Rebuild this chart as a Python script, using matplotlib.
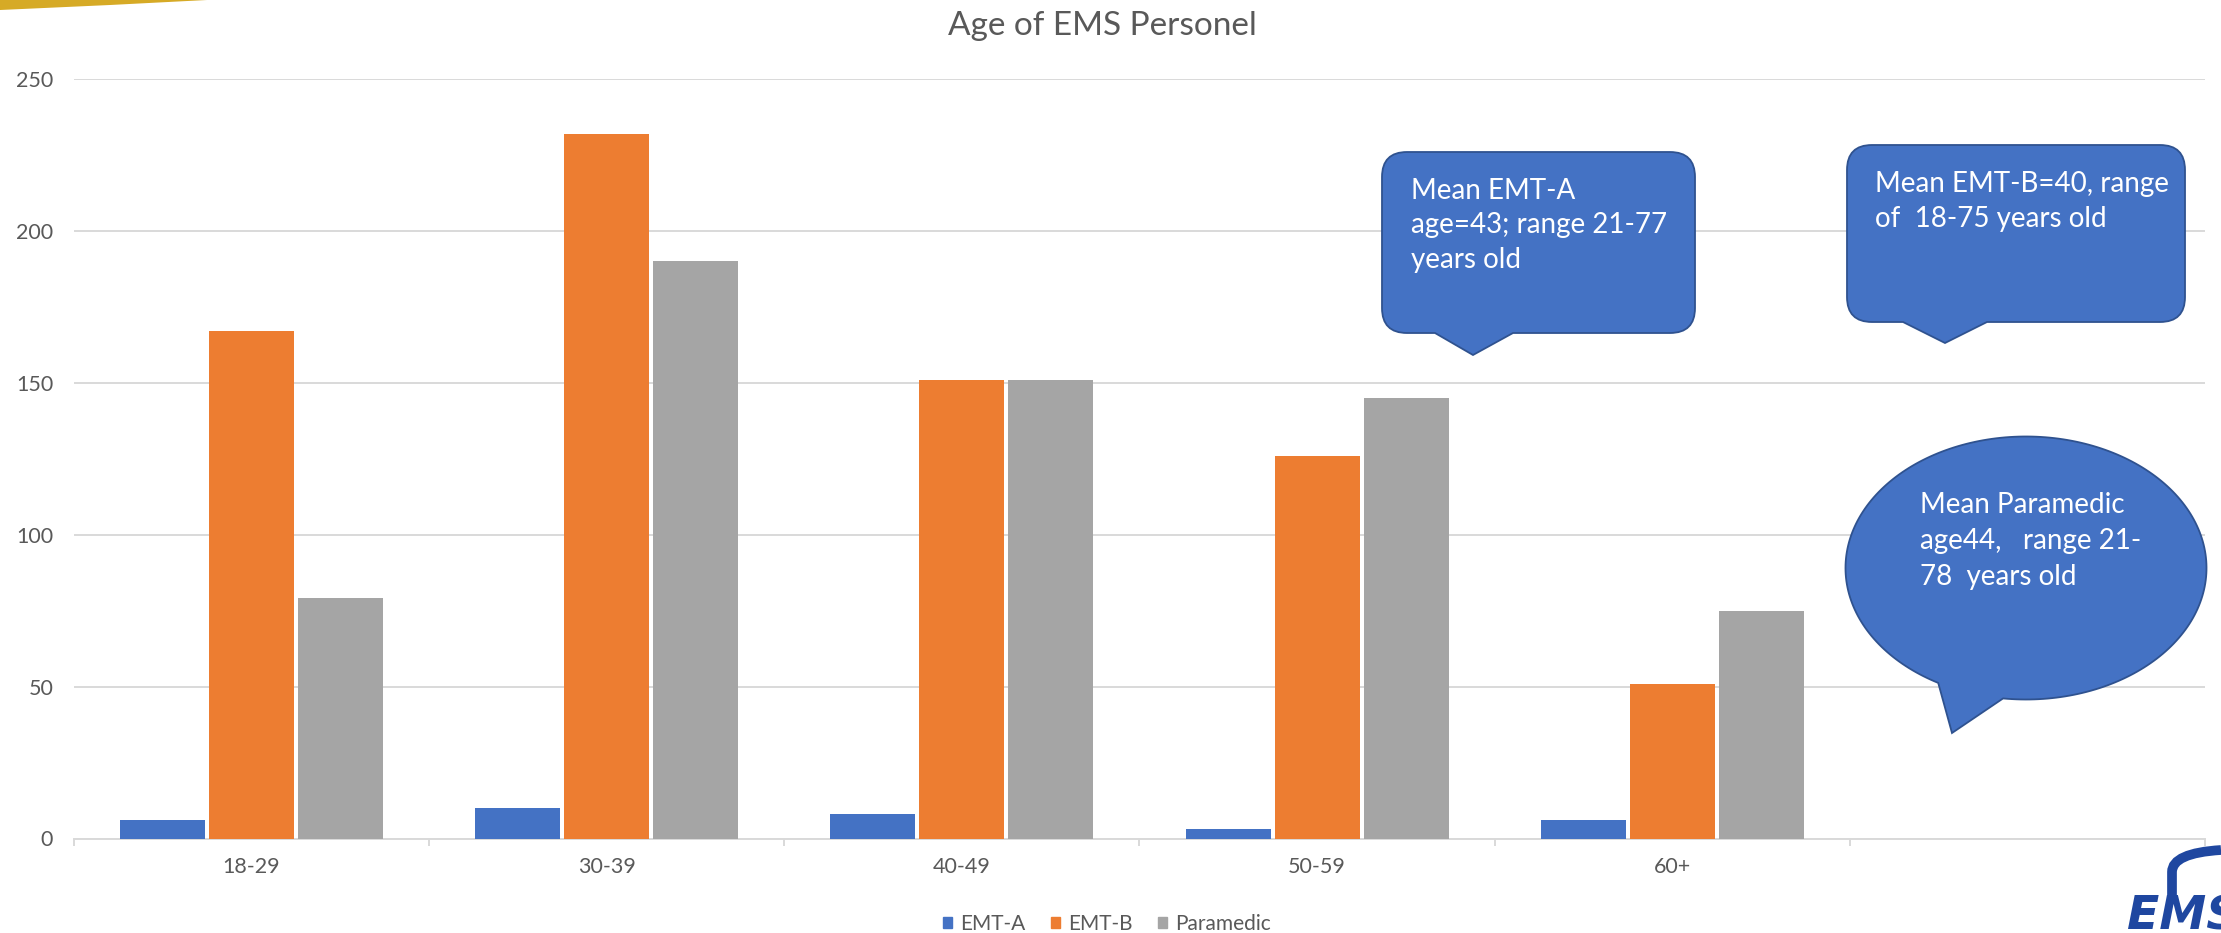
import numpy as np
import matplotlib
matplotlib.use("Agg")
import matplotlib.pyplot as plt
from matplotlib.path import Path
from matplotlib.patches import PathPatch, Patch, Polygon
from matplotlib.transforms import Affine2D

# Head counts per age group
categories = ["18-29", "30-39", "40-49", "50-59", "60+", ""]
series_names = ["EMT-A", "EMT-B", "Paramedic"]
emt_a = [6, 10, 8, 3, 6]
emt_b = [167, 232, 151, 126, 51]
paramedic = [79, 190, 151, 145, 75]
y_ticks = [0, 50, 100, 150, 200, 250]

callout_a = ["Mean EMT-A", "age=43; range 21-77", "years old"]
callout_b = ["Mean EMT-B=40, range", "of  18-75 years old"]
callout_p = ["Mean Paramedic", "age44,   range 21-", "78  years old"]

W, H = 2221, 933
BLUE, ORANGE, GRAY = "#4472C4", "#ED7D31", "#A5A5A5"
TEXT = "#595959"
GRID = "#D9D9D9"
SHAPE_EDGE = "#2F528F"

plt.rcParams["font.family"] = ["Lato", "DejaVu Sans"]

fig = plt.figure(figsize=(W / 100, H / 100), dpi=100)
fig.patch.set_facecolor("white")
ax = fig.add_axes([74 / W, 1 - 838.5 / H, (2205 - 74) / W, (838.5 - 79) / H])

# pixel coordinates with the origin at the top-left corner of the figure
px = Affine2D().scale(1 / W, -1 / H).translate(0, 1) + fig.transFigure

pitch, width = 0.2506, 0.239
x = np.arange(len(emt_a))
for i, (vals, col) in enumerate(zip([emt_a, emt_b, paramedic], [BLUE, ORANGE, GRAY])):
    ax.bar(x + (i - 1) * pitch, vals, width, color=col, zorder=3)

ax.set_xlim(-0.5, len(categories) - 0.5)
ax.set_ylim(0, 250)
ax.set_yticks(y_ticks)
ax.yaxis.grid(True, color=GRID, lw=1.4)
ax.set_axisbelow(True)
for s in ("top", "right", "left"):
    ax.spines[s].set_visible(False)
ax.spines["bottom"].set_color(GRID)
ax.spines["bottom"].set_linewidth(1.4)
ax.set_xticks(np.arange(len(categories)))
ax.set_xticklabels(categories)
ax.set_xticks(np.arange(len(categories) + 1) - 0.5, minor=True)
ax.tick_params(axis="x", which="major", length=0, pad=13, labelsize=15.5, labelcolor=TEXT)
ax.tick_params(axis="x", which="minor", length=5, color=GRID, width=1.4)
ax.tick_params(axis="y", length=0, pad=15, labelsize=15.5, labelcolor=TEXT)

fig.text(1102 / W, 1 - 26 / H, "Age of EMS Personel", ha="center", va="center",
         fontsize=24, color=TEXT)

handles = [Patch(color=c, label=n) for c, n in zip([BLUE, ORANGE, GRAY], series_names)]
fig.legend(handles=handles, loc="center", bbox_to_anchor=(1107 / W, 1 - 924 / H), ncol=3,
           frameon=False, fontsize=15, handlelength=0.45, handleheight=0.45,
           handletextpad=0.4, columnspacing=1.2, labelcolor=TEXT)


def rounded_callout(x0, y0, x1, y1, r, xa, xb, tip):
    M, L, C, Z = Path.MOVETO, Path.LINETO, Path.CURVE3, Path.CLOSEPOLY
    verts = [(x0 + r, y0), (x1 - r, y0), (x1, y0), (x1, y0 + r), (x1, y1 - r),
             (x1, y1), (x1 - r, y1), (xb, y1), tip, (xa, y1), (x0 + r, y1),
             (x0, y1), (x0, y1 - r), (x0, y0 + r), (x0, y0), (x0 + r, y0), (x0 + r, y0)]
    codes = [M, L, C, C, L, C, C, L, L, L, L, C, C, L, C, C, Z]
    return PathPatch(Path(verts, codes), facecolor=BLUE, edgecolor=SHAPE_EDGE,
                     lw=1.3, transform=px)


def ellipse_callout(cx, cy, w, h, a_start, a_end, tip):
    t = np.radians(np.linspace(a_start, a_end - 360, 240))
    pts = np.column_stack([cx + w / 2 * np.cos(t), cy + h / 2 * np.sin(t)])
    pts = np.vstack([pts, tip])
    return Polygon(pts, closed=True, facecolor=BLUE, edgecolor=SHAPE_EDGE,
                   lw=1.3, transform=px)


fig.patches.append(rounded_callout(1382, 152, 1695, 333, 25, 1435, 1513, (1473, 355)))
fig.patches.append(rounded_callout(1847, 145, 2185, 322, 25, 1903, 1987, (1945, 343)))
fig.patches.append(ellipse_callout(2026, 568, 361, 263, 97.3, 119.1, (1952, 733)))


def callout_text(lines, x0, base0, step):
    for k, line in enumerate(lines):
        fig.text(x0, base0 + k * step, line, transform=px, ha="left", va="baseline",
                 fontsize=20, color="white")


callout_text(callout_a, 1411, 199, 34.5)
callout_text(callout_b, 1875, 192, 34.5)
callout_text(callout_p, 1920, 513, 36)

# gold swoosh in the top-left corner
fig.patches.append(Polygon([(0, 0), (207, 0), (110, 5), (0, 10)], closed=True,
                           facecolor="#D6AA26", edgecolor="none", transform=px))

# partial EMS logo in the bottom-right corner
arch = Path([(2172, 898), (2172, 872), (2172, 853), (2221, 850)],
            [Path.MOVETO, Path.LINETO, Path.CURVE3, Path.CURVE3])
fig.patches.append(PathPatch(arch, facecolor="none", edgecolor="#1F47A0", lw=7,
                             capstyle="butt", transform=px))
fig.text(2127, 930, "EMS", transform=px, ha="left", va="baseline", fontsize=34,
         fontweight="bold", fontstyle="italic", color="#1F47A0", family="DejaVu Sans")

fig.savefig("out.png", dpi=100)
